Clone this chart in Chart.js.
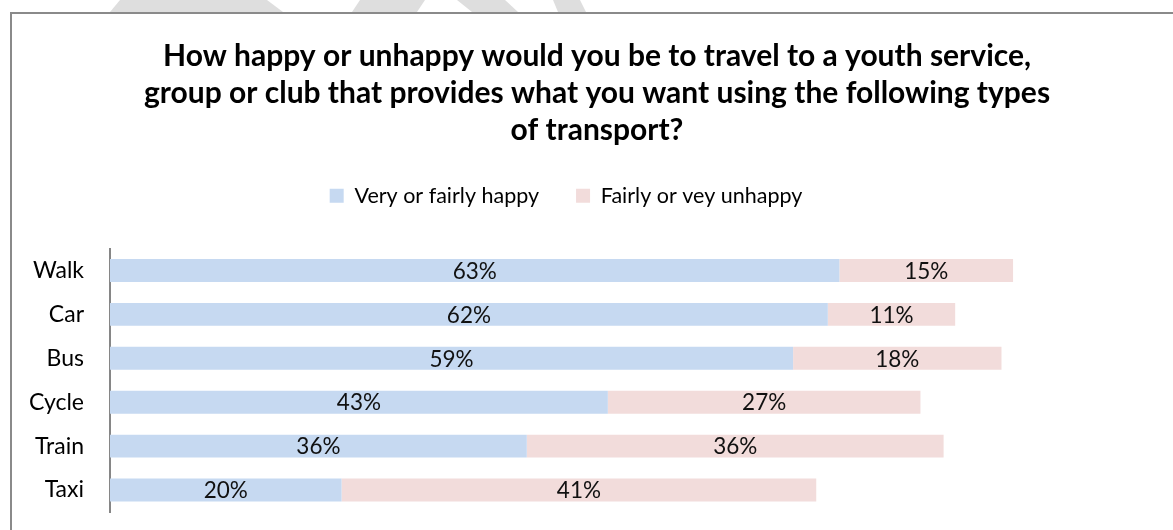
<!DOCTYPE html>
<html>
<head>
<meta charset="utf-8">
<script src="https://cdn.jsdelivr.net/npm/chart.js@4.4.1/dist/chart.umd.min.js"></script>
<style>
body { margin: 0; background: #fff; width: 1173px; height: 530px; overflow: hidden; position: relative; }
.fundo { position: absolute; left: 0; top: 0; }
.moldura { position: absolute; left: 10px; top: 12px; width: 1163px; height: 518px; border-top: 2px solid #8a8a8a; border-left: 2px solid #8a8a8a; }
.caixa { position: relative; width: 1161px; height: 516px; }
</style>
</head>
<body>
<svg class="fundo" width="1173" height="12">
  <polygon points="120,0 267,0 283,12 110,12" fill="#dedede"/>
  <polygon points="360,0 425,0 417,12 352,12" fill="#dedede"/>
  <polygon points="457,0 505,0 518,12 472,12" fill="#dedede"/>
  <polygon points="553,0 580,0 586,12 558,12" fill="#dedede"/>
</svg>
<div class="moldura"><div class="caixa"><canvas id="transporte"></canvas></div></div>
<script>
const modos = ['Walk', 'Car', 'Bus', 'Cycle', 'Train', 'Taxi'];
const felizes = [63, 62, 59, 43, 36, 20];
const infelizes = [15, 11, 18, 27, 36, 41];
const legendas = ['Very or fairly happy', 'Fairly or vey unhappy'];
const titulo = [
    'How happy or unhappy would you be to travel to a youth service,',
    'group or club that provides what you want using the following types',
    'of transport?'
];

Chart.defaults.font.family = 'Lato';
Chart.defaults.color = '#000';

// escreve a percentagem no meio de cada pedaço da barra
const rotulos = {
    id: 'rotulos',
    afterDatasetsDraw(chart) {
        const ctx = chart.ctx;
        ctx.save();
        ctx.font = '22.5px Lato';
        ctx.fillStyle = '#111';
        ctx.textAlign = 'center';
        ctx.textBaseline = 'middle';
        chart.data.datasets.forEach((ds, i) => {
            chart.getDatasetMeta(i).data.forEach((barra, j) => {
                ctx.fillText(ds.data[j] + '%', (barra.x + barra.base) / 2, barra.y + 1);
            });
        });
        ctx.restore();
    }
};

// título um pouco à direita, legenda mais acima e à esquerda
const ajustarBlocos = {
    id: 'ajustarBlocos',
    afterLayout(chart) {
        const t = chart.titleBlock;
        t.left += 15; t.right += 15;
        const l = chart.legend;
        l.left -= 16; l.right -= 16;
        l.top -= 32; l.bottom -= 32;
    }
};

const grafico_transporte = document.getElementById('transporte');

new Chart(grafico_transporte, {
    type: 'bar',
    data: {
        labels: modos,
        datasets: [{
            label: legendas[0],
            data: felizes,
            backgroundColor: '#C6D9F1',
            borderWidth: 0,
            barPercentage: 0.52,
            categoryPercentage: 1
        }, {
            label: legendas[1],
            data: infelizes,
            backgroundColor: '#F2DCDB',
            borderWidth: 0,
            barPercentage: 0.52,
            categoryPercentage: 1
        }]
    },
    options: {
        indexAxis: 'y',
        responsive: true,
        maintainAspectRatio: false,
        animation: false,
        layout: { padding: { left: 0, right: 21, top: 0, bottom: 18 } },
        plugins: {
            title: {
                display: true,
                text: titulo,
                font: { size: 30, weight: 'bold', lineHeight: 37 / 30 },
                color: '#000',
                padding: { top: 24, bottom: 31 }
            },
            legend: {
                position: 'top',
                labels: {
                    boxWidth: 14,
                    boxHeight: 14,
                    padding: 37,
                    font: { size: 21.5 },
                    color: '#000'
                }
            },
            tooltip: { enabled: false }
        },
        scales: {
            x: {
                stacked: true,
                display: false,
                min: 0,
                max: 90
            },
            y: {
                stacked: true,
                grid: { display: false, drawTicks: false },
                border: { display: true, color: '#868686', width: 2 },
                ticks: { font: { size: 23 }, color: '#000', padding: 26 },
                afterFit(s) {
                    s.width = 98;
                    // a folga dos rótulos não deve encolher a área das barras
                    s.paddingTop = 0;
                    s.paddingBottom = 0;
                }
            }
        }
    },
    plugins: [rotulos, ajustarBlocos]
});
</script>
</body>
</html>
